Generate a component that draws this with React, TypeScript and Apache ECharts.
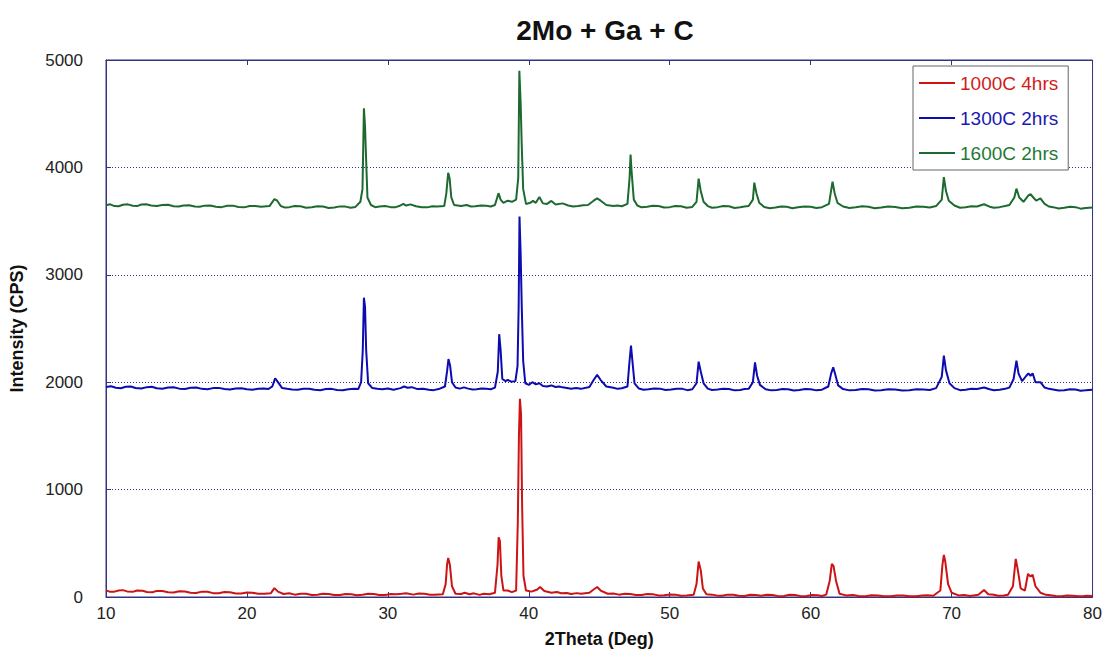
import React, { useEffect, useRef } from "react";
import * as echarts from "echarts";

const seriesNames = ["1000C 4hrs", "1300C 2hrs", "1600C 2hrs"];
const lineColors = ["#cc1414", "#0c0cb0", "#1d6a30"];
const xTicks = [10, 20, 30, 40, 50, 60, 70, 80];
const yTicks = [0, 1000, 2000, 3000, 4000, 5000];

const red1000: [number, number][] = [
  [10,62],[10.3,48],[10.6,50],[10.9,60],[11.2,64],[11.5,52],[11.9,48],[12.2,60],[12.6,58],[12.9,46],[13.3,44],[13.6,57],[14,55],[14.4,44],[14.8,42],[15.2,54],[15.6,52],[16,40],[16.4,38],[16.8,50],[17.2,48],[17.6,36],[18,35],[18.4,46],[18.8,44],[19.2,33],[19.6,32],[20,42],[20.4,40],[20.8,30],[21.2,30],[21.7,36],[21.95,83],[22.2,50],[22.6,28],[23,34],[23.4,22],[23.8,30],[24.2,30],[24.6,18],[25,20],[25.4,30],[25.8,28],[26.2,18],[26.6,18],[27,28],[27.4,26],[27.8,16],[28.2,22],[28.6,30],[29,28],[29.4,18],[29.8,18],[30.2,27],[30.6,25],[31,30],[31.3,35],[31.8,22],[32.2,32],[32.6,30],[33,20],[33.3,20],[33.9,25],[34.1,120],[34.2,300],[34.28,364],[34.4,300],[34.55,100],[34.8,30],[35.2,28],[35.45,40],[35.8,25],[36.1,34],[36.5,20],[36.8,30],[37.2,25],[37.6,40],[37.78,300],[37.86,556],[37.95,520],[38.05,200],[38.2,60],[38.5,60],[38.8,45],[39.1,60],[39.22,700],[39.3,1500],[39.37,1846],[39.45,1700],[39.52,900],[39.62,200],[39.8,60],[40.2,50],[40.6,70],[40.8,93],[41.1,55],[41.6,40],[42,46],[42.3,35],[42.7,38],[43,28],[43.4,36],[43.7,30],[44.3,40],[44.6,70],[44.85,93],[45.1,60],[45.6,30],[46,32],[46.4,22],[46.8,30],[47.2,28],[47.6,18],[48,18],[48.4,27],[48.8,25],[49.2,15],[49.6,16],[50,24],[50.4,22],[50.8,12],[51.2,14],[51.7,22],[51.9,120],[52.05,330],[52.2,250],[52.35,80],[52.6,25],[53,22],[53.3,15],[53.7,12],[54.1,22],[54.5,20],[54.9,12],[55.3,10],[55.7,20],[56.1,18],[56.5,12],[56.9,20],[57.3,18],[57.7,8],[58.1,10],[58.5,20],[58.9,18],[59.3,8],[59.7,10],[60.1,18],[60.5,16],[60.8,10],[61.1,22],[61.35,150],[61.5,309],[61.62,290],[61.8,150],[62.05,30],[62.5,15],[63,18],[63.4,10],[63.9,8],[64.3,16],[64.8,14],[65.2,8],[65.7,6],[66.1,14],[66.6,14],[67,8],[67.5,6],[67.9,14],[68.3,16],[68.7,12],[69.2,60],[69.35,300],[69.45,392],[69.55,330],[69.75,120],[70,40],[70.5,15],[70.9,18],[71.3,10],[71.9,20],[72.3,65],[72.6,25],[73,20],[73.3,12],[73.7,14],[74,20],[74.35,100],[74.55,355],[74.7,250],[74.9,80],[75.2,60],[75.42,216],[75.6,190],[75.75,208],[75.95,100],[76.3,40],[76.7,20],[77,16],[77.4,10],[77.8,6],[78.2,14],[78.6,12],[79,8],[79.3,6],[79.6,12],[80,10]
];

const blue1300: [number, number][] = [
  [10,1955],[10.35,1962],[10.7,1948],[11.05,1944],[11.4,1958],[11.75,1960],[12.1,1946],[12.5,1942],[12.9,1954],[13.25,1957],[13.6,1944],[14,1940],[14.4,1950],[14.8,1953],[15.2,1940],[15.6,1937],[16,1948],[16.4,1950],[16.8,1938],[17.2,1934],[17.6,1945],[18,1947],[18.4,1936],[18.8,1932],[19.2,1942],[19.6,1944],[20,1934],[20.4,1930],[20.8,1940],[21.2,1941],[21.5,1936],[21.8,1960],[22,2037],[22.2,2000],[22.5,1945],[22.85,1938],[23.2,1932],[23.6,1929],[24,1938],[24.4,1940],[24.8,1930],[25.2,1926],[25.6,1936],[26,1938],[26.4,1928],[26.8,1925],[27.2,1934],[27.6,1938],[27.9,1936],[28.1,2000],[28.22,2300],[28.3,2787],[28.38,2700],[28.46,2300],[28.6,1990],[28.9,1945],[29.25,1938],[29.6,1934],[30,1942],[30.4,1930],[30.9,1945],[31.15,1960],[31.4,1948],[31.7,1954],[32.1,1936],[32.5,1940],[32.9,1930],[33.25,1926],[33.6,1936],[34.05,1960],[34.2,2100],[34.3,2216],[34.42,2150],[34.55,2000],[34.8,1950],[35.1,1940],[35.4,1952],[35.7,1940],[36,1932],[36.3,1935],[36.65,1942],[37,1938],[37.3,1934],[37.6,1950],[37.8,2100],[37.9,2447],[38,2300],[38.12,2030],[38.35,2010],[38.5,2021],[38.75,2005],[39.05,2010],[39.2,2150],[39.28,2700],[39.34,3543],[39.42,3200],[39.5,2700],[39.6,2200],[39.75,1990],[40,1975],[40.25,2000],[40.5,1980],[40.75,1990],[41,1965],[41.3,1960],[41.6,1970],[41.9,1955],[42.15,1960],[42.4,1952],[42.7,1946],[43,1940],[43.35,1946],[43.7,1938],[44.3,1955],[44.6,2020],[44.85,2068],[45.1,2020],[45.5,1960],[46,1948],[46.3,1938],[46.6,1944],[47,1960],[47.15,2200],[47.25,2340],[47.35,2200],[47.5,1990],[47.8,1942],[48.15,1930],[48.5,1935],[48.9,1942],[49.3,1940],[49.7,1928],[50.1,1932],[50.5,1940],[50.9,1938],[51.25,1926],[51.6,1934],[51.9,1990],[52.05,2191],[52.2,2100],[52.4,1990],[52.7,1940],[53,1928],[53.4,1932],[53.8,1940],[54.2,1936],[54.6,1924],[55,1928],[55.3,1936],[55.6,1938],[55.9,2000],[56.05,2185],[56.2,2060],[56.4,1975],[56.8,1934],[57.2,1924],[57.6,1928],[58,1936],[58.4,1934],[58.8,1922],[59.2,1928],[59.6,1936],[60,1934],[60.4,1924],[60.8,1930],[61.25,1960],[61.45,2080],[61.6,2139],[61.75,2070],[61.95,1970],[62.3,1936],[62.75,1924],[63.2,1928],[63.65,1936],[64.1,1934],[64.55,1922],[65,1926],[65.5,1934],[66,1932],[66.5,1922],[67,1925],[67.5,1934],[68,1932],[68.45,1928],[68.9,1945],[69.3,2050],[69.45,2247],[69.6,2110],[69.85,1990],[70.2,1945],[70.6,1926],[71,1930],[71.4,1938],[71.8,1936],[72.3,1951],[72.7,1934],[73,1926],[73.4,1930],[73.8,1938],[74.1,1950],[74.4,2030],[74.6,2201],[74.75,2080],[75,2010],[75.3,2060],[75.45,2083],[75.6,2060],[75.75,2083],[75.95,2000],[76.3,2000],[76.6,1950],[76.9,1938],[77.2,1932],[77.6,1922],[78,1926],[78.4,1934],[78.8,1932],[79.15,1920],[79.5,1924],[80,1930]
];

const green1600: [number, number][] = [
  [10,3648],[10.3,3656],[10.6,3640],[10.9,3638],[11.2,3652],[11.55,3656],[11.9,3643],[12.2,3640],[12.5,3655],[12.85,3657],[13.2,3645],[13.6,3641],[14,3650],[14.4,3652],[14.8,3638],[15.15,3636],[15.5,3646],[15.9,3648],[16.3,3636],[16.65,3633],[17,3644],[17.4,3646],[17.8,3634],[18.2,3630],[18.6,3642],[19,3644],[19.4,3632],[19.8,3628],[20.2,3640],[20.6,3641],[21,3633],[21.6,3640],[21.95,3705],[22.15,3690],[22.4,3640],[22.7,3626],[23,3630],[23.4,3640],[23.8,3638],[24.2,3624],[24.6,3628],[25,3638],[25.4,3636],[25.8,3622],[26.2,3627],[26.6,3637],[27,3635],[27.35,3624],[27.7,3632],[28.05,3680],[28.2,3800],[28.3,4550],[28.38,4380],[28.45,4100],[28.55,3720],[28.8,3650],[29.1,3630],[29.4,3636],[29.8,3640],[30.2,3630],[30.5,3628],[30.8,3640],[31.1,3660],[31.3,3645],[31.6,3656],[32,3638],[32.4,3630],[32.8,3628],[33.15,3638],[33.5,3635],[34,3640],[34.15,3760],[34.28,3950],[34.38,3900],[34.5,3720],[34.7,3650],[35.2,3640],[35.6,3650],[35.9,3636],[36.2,3638],[36.6,3646],[37,3642],[37.3,3636],[37.6,3650],[37.85,3760],[38,3700],[38.2,3670],[38.5,3690],[38.8,3680],[39.1,3700],[39.25,3900],[39.33,4900],[39.42,4600],[39.5,4200],[39.6,3800],[39.8,3660],[40.1,3670],[40.3,3688],[40.5,3670],[40.75,3725],[41,3665],[41.3,3660],[41.6,3688],[41.9,3655],[42.4,3665],[42.8,3645],[43.15,3636],[43.5,3640],[43.85,3648],[44.2,3650],[44.6,3690],[44.85,3712],[45.1,3690],[45.5,3650],[46,3640],[46.3,3646],[46.6,3638],[47,3660],[47.15,3900],[47.22,4120],[47.3,3950],[47.45,3700],[47.7,3645],[48,3628],[48.4,3634],[48.8,3642],[49.2,3640],[49.6,3626],[50,3630],[50.4,3640],[50.8,3638],[51.2,3624],[51.6,3632],[51.9,3680],[52.05,3895],[52.2,3780],[52.4,3680],[52.7,3640],[53,3624],[53.4,3630],[53.8,3640],[54.2,3638],[54.6,3622],[55,3628],[55.3,3636],[55.6,3640],[55.9,3700],[56,3858],[56.15,3760],[56.35,3670],[56.7,3632],[57.1,3620],[57.5,3626],[57.9,3636],[58.3,3634],[58.7,3620],[59.1,3628],[59.55,3636],[60,3634],[60.4,3622],[60.8,3630],[61.3,3660],[61.55,3867],[61.7,3760],[61.9,3670],[62.3,3636],[62.75,3622],[63.2,3628],[63.65,3638],[64.1,3634],[64.55,3620],[65,3626],[65.5,3636],[66,3632],[66.5,3620],[67,3625],[67.5,3635],[68,3633],[68.45,3626],[68.9,3640],[69.3,3700],[69.45,3910],[69.6,3780],[69.8,3690],[70.2,3645],[70.6,3624],[71,3630],[71.4,3638],[71.8,3636],[72.3,3657],[72.7,3634],[73,3624],[73.4,3630],[73.8,3640],[74.1,3650],[74.45,3720],[74.6,3802],[74.8,3720],[75.1,3680],[75.45,3740],[75.6,3750],[75.8,3720],[76,3690],[76.3,3712],[76.6,3660],[76.9,3636],[77.2,3630],[77.6,3618],[78,3624],[78.4,3634],[78.8,3630],[79.15,3616],[79.5,3622],[80,3626]
];

const seriesData = [red1000, blue1300, green1600];
const legendTextColors = ["#d01c1c", "#1a1ab0", "#1f7a36"];
const axisColor = "#34347e";

export default function App() {
  const ref = useRef<HTMLDivElement>(null);
  useEffect(() => {
    if (!ref.current) return;
    const chart = echarts.init(ref.current, null, { renderer: "svg" });
    const font = "'Liberation Sans', Arial, sans-serif";
    chart.setOption({
      animation: false,
      backgroundColor: "#ffffff",
      textStyle: { fontFamily: font },
      title: {
        text: "2Mo + Ga + C",
        left: 600,
        top: 11,
        textAlign: "center",
        textStyle: { fontSize: 28, fontWeight: "bold", color: "#111", fontFamily: font },
      },
      legend: {
        orient: "vertical",
        left: 913,
        top: 66,
        padding: [5, 10, 5, 6],
        itemGap: 11,
        itemWidth: 36,
        itemHeight: 2,
        icon: "rect",
        backgroundColor: "#ffffff",
        borderColor: "#666",
        borderWidth: 1,
        borderRadius: 0,
        textStyle: { fontSize: 19, fontFamily: font, lineHeight: 24 },
        data: seriesNames.map((n, i) => ({ name: n, textStyle: { color: legendTextColors[i] } })),
      },
      grid: {
        left: 106,
        right: 12,
        top: 60,
        bottom: 53,
        show: true,
        borderColor: axisColor,
        borderWidth: 1,
      },
      xAxis: [
        {
          type: "value",
          min: xTicks[0],
          max: xTicks[xTicks.length - 1],
          interval: 10,
          name: "2Theta (Deg)",
          nameLocation: "middle",
          nameGap: 33,
          nameTextStyle: { fontSize: 18, fontWeight: "bold", color: "#111", fontFamily: font },
          axisLine: { show: true, lineStyle: { color: axisColor } },
          axisTick: { show: true, inside: true, length: 5, lineStyle: { color: axisColor } },
          axisLabel: { fontSize: 17, color: "#222", margin: 8, fontFamily: font, formatter: (v: number) => String(v) },
          splitLine: { show: false },
        },
        {
          type: "value",
          position: "top",
          min: xTicks[0],
          max: xTicks[xTicks.length - 1],
          interval: 10,
          axisLine: { show: true, lineStyle: { color: axisColor } },
          axisTick: { show: true, inside: true, length: 5, lineStyle: { color: axisColor } },
          axisLabel: { show: false },
          splitLine: { show: false },
        },
      ],
      yAxis: {
        type: "value",
        min: yTicks[0],
        max: yTicks[yTicks.length - 1],
        interval: 1000,
        name: "Intensity (CPS)",
        nameLocation: "middle",
        nameGap: 80,
        nameTextStyle: { fontSize: 18, fontWeight: "bold", color: "#111", fontFamily: font },
        axisLine: { show: true, lineStyle: { color: axisColor } },
        axisTick: { show: true, inside: true, length: 5, lineStyle: { color: axisColor } },
        axisLabel: { fontSize: 17, color: "#222", margin: 23, fontFamily: font, formatter: (v: number) => String(v) },
        splitLine: { show: true, lineStyle: { color: axisColor, type: [1, 2], width: 1 } },
      },
      series: seriesNames.map((n, i) => ({
        name: n,
        type: "line",
        data: seriesData[i],
        symbol: "none",
        showSymbol: false,
        color: lineColors[i],
        lineStyle: { color: lineColors[i], width: 2 },
        z: 2 + i,
      })),
    });
    return () => chart.dispose();
  }, []);
  return (
    <div
      ref={ref}
      style={{ position: "fixed", left: 0, top: 0, width: 1105, height: 653, background: "#fff" }}
    />
  );
}
